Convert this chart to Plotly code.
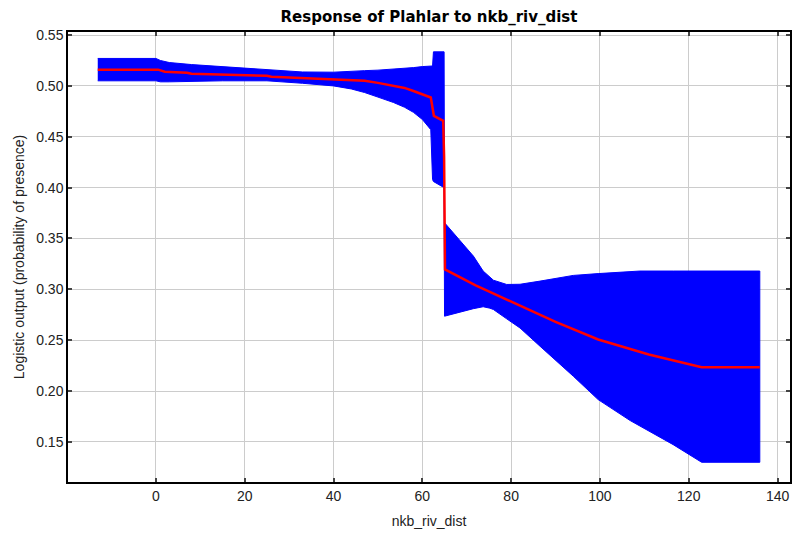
"""MaxEnt style response curve for nkb_riv_dist."""

import plotly.graph_objects as go

# band (mean +/- sd)
band_x = [-13.1, 0, 1, 3, 8, 15, 25, 33, 40, 44, 47, 50, 53.5, 56, 58, 60,
          61.9, 62.3, 62.5, 64.9, 65.0, 68, 71.5, 73.7, 75.2, 76, 79, 82,
          86.5, 94, 99.6, 106.8, 109, 116.5, 122.9, 136]
band_upper = [0.527, 0.527, 0.525, 0.523, 0.521, 0.519, 0.516, 0.5137, 0.5135,
              0.514, 0.515, 0.5155, 0.5163, 0.5172, 0.518, 0.519, 0.5196,
              0.5196, 0.5335, 0.5335, 0.3655, 0.350, 0.3327, 0.318, 0.3117,
              0.309, 0.3048, 0.305, 0.3081, 0.3137, 0.3155, 0.3179, 0.318,
              0.318, 0.318, 0.318]
band_lower = [0.505, 0.505, 0.504, 0.504, 0.504, 0.505, 0.505, 0.5026, 0.500,
              0.497, 0.4935, 0.489, 0.4837, 0.479, 0.474, 0.467, 0.457,
              0.408, 0.406, 0.400, 0.2736, 0.277, 0.281, 0.2829, 0.2815,
              0.2802, 0.271, 0.262, 0.2441, 0.2146, 0.1916, 0.171, 0.1654,
              0.1473, 0.130, 0.130]

# mean response (red line)
mean_x = [-13.1, 0.5, 2, 7, 8, 16, 17, 25, 26, 32, 40, 47, 50, 53.5, 56, 58,
          61.9, 62.6, 64.7, 64.9, 65.1, 72, 79.7, 90, 99.6, 111, 122.9, 136]
mean_y = [0.516, 0.516, 0.514, 0.513, 0.512, 0.511, 0.511, 0.510, 0.509,
          0.508, 0.5065, 0.505, 0.503, 0.5005, 0.498, 0.495, 0.4886, 0.4706,
          0.4657, 0.43, 0.3196, 0.304, 0.2884, 0.268, 0.2507, 0.236, 0.2235,
          0.2235]

font = "Liberation Sans, Arial, sans-serif"

fig = go.Figure()
fig.add_trace(go.Scatter(
    x=band_x + band_x[::-1],
    y=band_upper + band_lower[::-1],
    fill="toself",
    fillcolor="#0000ff",
    line=dict(color="#0000ff", width=1),
    mode="lines",
    hoverinfo="skip",
    showlegend=False,
))
fig.add_trace(go.Scatter(
    x=mean_x,
    y=mean_y,
    mode="lines",
    line=dict(color="#ff0000", width=2.5),
    showlegend=False,
))

axis_common = dict(
    automargin=False,
    showline=True,
    linecolor="#000000",
    linewidth=1.5,
    mirror="ticks",
    ticks="inside",
    ticklen=4,
    tickcolor="#444444",
    tickwidth=1.5,
    showgrid=True,
    gridcolor="#cccccc",
    gridwidth=1,
    zeroline=False,
    tickfont=dict(family=font, size=14, color="#222222"),
    title_font=dict(family=font, size=14, color="#222222"),
)

fig.update_xaxes(
    range=[-19.8, 142.8],
    tick0=0,
    dtick=20,
    title_text="nkb_riv_dist",
    title_standoff=14,
    **axis_common,
)
fig.update_yaxes(
    range=[0.1106, 0.553],
    tick0=0.15,
    dtick=0.05,
    tickformat=".2f",
    title_text="Logistic output (probability of presence)",
    title_standoff=8,
    **axis_common,
)

fig.update_layout(
    width=793,
    height=540,
    margin=dict(l=68, r=3, t=32, b=58),
    paper_bgcolor="#ffffff",
    plot_bgcolor="#ffffff",
    title=dict(
        text="<b>Response of Plahlar to nkb_riv_dist</b>",
        x=(68 + 790) / 2 / 793,
        xanchor="center",
        y=1 - 17 / 540,
        yanchor="middle",
        font=dict(family="DejaVu Sans, sans-serif", size=15, color="#000000"),
    ),
)

# drop the browser's default body margin so the figure sits at the page corner
fig.write_html(
    "out.html",
    config={"displayModeBar": False},
    post_script="document.body.style.margin='0px';",
)
